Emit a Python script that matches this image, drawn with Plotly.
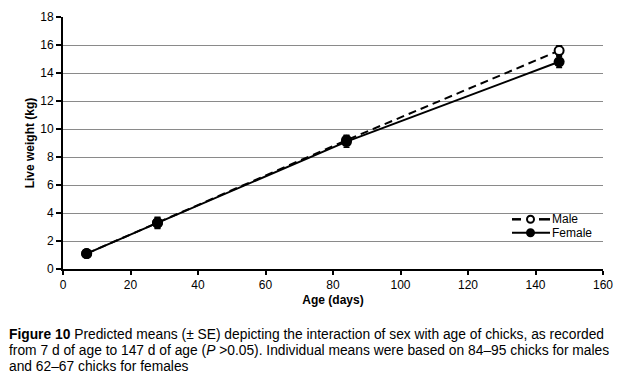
import plotly.graph_objects as go

age = [7, 28, 84, 147]
male_mean = [1.1, 3.3, 9.2, 15.6]
male_se = [0.25, 0.35, 0.35, 0.35]
female_mean = [1.1, 3.3, 9.1, 14.8]
female_se = [0.25, 0.4, 0.4, 0.4]

x_ticks = [0, 20, 40, 60, 80, 100, 120, 140, 160]
y_ticks = [0, 2, 4, 6, 8, 10, 12, 14, 16, 18]

caption_lines = [
    "<b>Figure 10</b> Predicted means (± SE) depicting the interaction of sex with age of chicks, as recorded",
    "from 7 d of age to 147 d of age (<i>P</i> &gt;0.05). Individual means were based on 84–95 chicks for males",
    "and 62–67 chicks for females",
]

FONT = "Liberation Sans, Arial, sans-serif"
OFF = 8  # default page body margin
W, H = 627 - OFF, 382 - OFF
PL, PR, PT, PB = 63, 603, 17, 269  # plot area in page pixels
L, R, T, B = PL - OFF, 627 - PR, PT - OFF, 382 - PB
PW, PH = PR - PL, PB - PT


def px(x):
    return (x - PL) / PW


def py(y):
    return (PB - y) / PH


fig = go.Figure()
fig.add_trace(go.Scatter(
    x=age, y=male_mean, name="Male", mode="lines+markers",
    line=dict(color="black", width=2, dash="8px,5px"),
    marker=dict(symbol="circle", size=9, color="white", line=dict(color="black", width=2)),
    error_y=dict(type="data", array=male_se, color="black", thickness=1.5, width=3),
))
fig.add_trace(go.Scatter(
    x=age, y=female_mean, name="Female", mode="lines+markers",
    line=dict(color="black", width=2),
    marker=dict(symbol="circle", size=11, color="black"),
    error_y=dict(type="data", array=female_se, color="black", thickness=1.5, width=3),
))

fig.update_layout(
    width=W, height=H,
    margin=dict(l=L, r=R, t=T, b=B),
    paper_bgcolor="white", plot_bgcolor="white",
    font=dict(family=FONT, size=12, color="black"),
    showlegend=False,
    xaxis=dict(range=[0, 160], tickvals=x_ticks, showgrid=False, automargin=False,
               showline=True, linecolor="black", linewidth=2,
               ticks="outside", ticklen=4, tickcolor="black", tickwidth=2,
               title=dict(text="<b>Age (days)</b>", font=dict(size=12), standoff=4),
               zeroline=False),
    yaxis=dict(range=[0, 18], tickvals=y_ticks, showgrid=True, gridcolor="#8a8a8a", gridwidth=1,
               automargin=False,
               showline=True, linecolor="black", linewidth=2,
               ticks="outside", ticklen=5, tickcolor="black", tickwidth=2,
               title=dict(text="<b>Live weight (kg)</b>", font=dict(size=12), standoff=3),
               zeroline=False),
)

# Legend (drawn manually to match compact layout)
MALE_Y, FEMALE_Y = 219.3, 232.7
for x0, x1 in [(512, 521), (539, 550)]:
    fig.add_shape(type="line", xref="paper", yref="paper",
                  x0=px(x0), x1=px(x1), y0=py(MALE_Y), y1=py(MALE_Y),
                  line=dict(color="black", width=2.5))
fig.add_shape(type="line", xref="paper", yref="paper",
              x0=px(512), x1=px(550), y0=py(FEMALE_Y), y1=py(FEMALE_Y),
              line=dict(color="black", width=2))
for ypix, fill in [(MALE_Y, "white"), (FEMALE_Y, "black")]:
    fig.add_shape(type="circle", xref="paper", yref="paper",
                  xsizemode="pixel", ysizemode="pixel",
                  xanchor=px(530.5), yanchor=py(ypix),
                  x0=-3.5, x1=3.5, y0=-3.5, y1=3.5,
                  fillcolor=fill, line=dict(color="black", width=2))
for name, ypix in [("Male", MALE_Y), ("Female", FEMALE_Y)]:
    fig.add_annotation(xref="paper", yref="paper", x=px(551), y=py(ypix),
                       xanchor="left", yanchor="middle", showarrow=False,
                       height=12, borderpad=0,
                       text=name, font=dict(family=FONT, size=12, color="black"))

for i, line in enumerate(caption_lines):
    fig.add_annotation(
        xref="paper", yref="paper", x=px(7), y=py(334.5 + 15.8 * i),
        xanchor="left", yanchor="middle", align="left", showarrow=False,
        font=dict(family=FONT, size=13.8, color="black"), text=line,
    )

fig.write_html("out.html")
